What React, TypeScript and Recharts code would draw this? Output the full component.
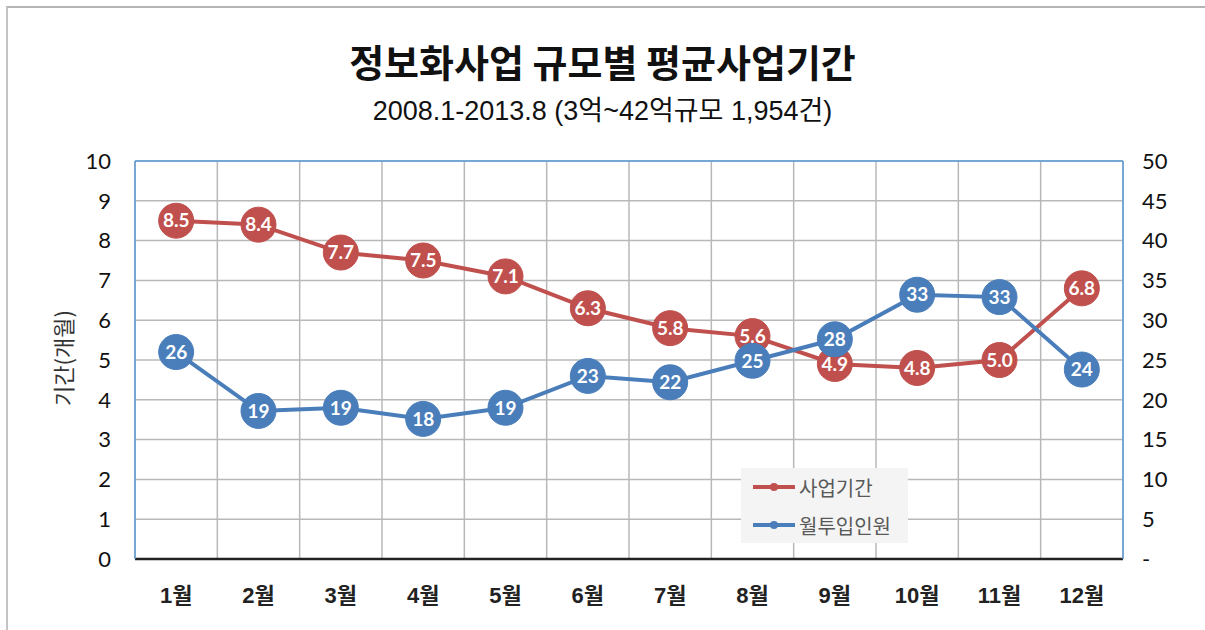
import React from 'react';
import { LineChart, Line, XAxis, YAxis, CartesianGrid, ReferenceLine, LabelList } from 'recharts';

const months = ['1월', '2월', '3월', '4월', '5월', '6월', '7월', '8월', '9월', '10월', '11월', '12월'];
// 사업기간 (months, left axis)
const periodMonths = [8.5, 8.4, 7.7, 7.5, 7.1, 6.3, 5.8, 5.6, 4.9, 4.8, 5.0, 6.8];
// 월투입인원 (right axis)
const monthlyStaff = [26, 18.6, 19, 17.6, 19, 23, 22.2, 24.9, 27.6, 33.2, 32.9, 23.8];
const leftTicks = [0, 1, 2, 3, 4, 5, 6, 7, 8, 9, 10];
const rightTicks = [0, 5, 10, 15, 20, 25, 30, 35, 40, 45, 50];

const data = months.map((month, i) => ({ month, period: periodMonths[i], staff: monthlyStaff[i] }));

const RED = '#c0504d';
const BLUE = '#4a7ebb';
const KR = '"Noto Sans CJK KR", "Noto Sans", sans-serif';
const NUM = 'Lato, "Noto Sans", sans-serif';

const series = [
  { name: '사업기간', color: RED },
  { name: '월투입인원', color: BLUE },
];

function LegendBox() {
  return (
    <div style={{ position: 'absolute', left: 741, top: 468, background: '#f4f4f4', width: 167, height: 75 }}>
      {series.map((p) => (
        <div key={p.name} style={{ display: 'flex', alignItems: 'center', height: 38, paddingLeft: 10 }}>
          <svg width={46} height={10}>
            <line x1={2} y1={5} x2={44} y2={5} stroke={p.color} strokeWidth={4} />
            <circle cx={23} cy={5} r={4} fill={p.color} />
          </svg>
          <span style={{ fontFamily: KR, fontSize: 20, color: '#595959', marginLeft: 2 }}>{p.name}</span>
        </div>
      ))}
    </div>
  );
}

export default function App() {
  return (
    <div style={{ position: 'absolute', left: 0, top: 0, width: 1205, height: 630, background: '#fff', overflow: 'hidden' }}>
      <div style={{ position: 'absolute', left: 6, top: 6, width: 1199, height: 630, borderLeft: '2px solid #c4c4c4', borderTop: '2px solid #b4b4b4' }} />
      <div style={{ position: 'absolute', left: 0, width: 1205, top: 36, textAlign: 'center', fontFamily: KR, fontWeight: 700, fontSize: 38, color: '#111', lineHeight: '50px' }}>
        정보화사업 규모별 평균사업기간
      </div>
      <div style={{ position: 'absolute', left: 0, width: 1205, top: 94, textAlign: 'center', fontFamily: '"Liberation Sans", "Noto Sans CJK KR", sans-serif', fontSize: 27, color: '#111', lineHeight: '34px' }}>
        2008.1-2013.8 (3억~42억규모 1,954건)
      </div>
      <div style={{ position: 'absolute', left: 62, top: 358, transform: 'translate(-50%, -50%) rotate(-90deg)', fontFamily: KR, fontSize: 22, color: '#333', whiteSpace: 'nowrap' }}>
        기간(개월)
      </div>
      <LineChart width={1205} height={630} data={data} margin={{ top: 161, right: 0, bottom: 0, left: 0 }} style={{ position: 'absolute', left: 0, top: 0 }}>
        <CartesianGrid
          yAxisId="left"
          stroke="#b8b8b8"
          strokeWidth={1.5}
          verticalCoordinatesGenerator={({ offset }: any) =>
            Array.from({ length: months.length + 1 }, (_, i) => offset.left + (i * offset.width) / months.length)
          }
        />
        <XAxis
          dataKey="month"
          scale="band"
          height={71}
          tickSize={0}
          tickMargin={28}
          axisLine={{ stroke: '#222', strokeWidth: 2.5 }}
          tick={{ fontFamily: '"Liberation Sans", "Noto Sans CJK KR", sans-serif', fontWeight: 700, fontSize: 22, fill: '#222' }}
        />
        <YAxis
          yAxisId="left"
          width={135}
          domain={[0, 10]}
          ticks={leftTicks}
          tickSize={0}
          tickMargin={24}
          axisLine={{ stroke: '#5b9bd5', strokeWidth: 1.5 }}
          tick={{ fontFamily: NUM, fontSize: 22, fill: '#111' }}
        />
        <YAxis
          yAxisId="right"
          orientation="right"
          width={82}
          domain={[0, 50]}
          ticks={rightTicks}
          tickSize={0}
          tickMargin={19}
          tickFormatter={(v: number) => (v === 0 ? '-' : String(v))}
          axisLine={{ stroke: '#5b9bd5', strokeWidth: 1.5 }}
          tick={{ fontFamily: NUM, fontSize: 22, fill: '#111', textAnchor: 'start' }}
        />
        <ReferenceLine yAxisId="left" y={10} stroke="#5b9bd5" strokeWidth={1.5} />
        <Line
          yAxisId="left"
          type="linear"
          dataKey="period"
          name="사업기간"
          stroke={RED}
          strokeWidth={4}
          dot={{ r: 17.5, fill: RED, stroke: RED, strokeWidth: 1 }}
          activeDot={false}
          isAnimationActive={false}
        >
          <LabelList
            dataKey="period"
            position="center"
            formatter={(v: number) => v.toFixed(1)}
            style={{ fill: '#fff', fontFamily: NUM, fontWeight: 700, fontSize: 19 }}
          />
        </Line>
        <Line
          yAxisId="right"
          type="linear"
          dataKey="staff"
          name="월투입인원"
          stroke={BLUE}
          strokeWidth={4}
          dot={{ r: 17.5, fill: BLUE, stroke: BLUE, strokeWidth: 1 }}
          activeDot={false}
          isAnimationActive={false}
        >
          <LabelList
            dataKey="staff"
            position="center"
            formatter={(v: number) => v.toFixed(0)}
            style={{ fill: '#fff', fontFamily: NUM, fontWeight: 700, fontSize: 19 }}
          />
        </Line>
      </LineChart>
      <LegendBox />
    </div>
  );
}
